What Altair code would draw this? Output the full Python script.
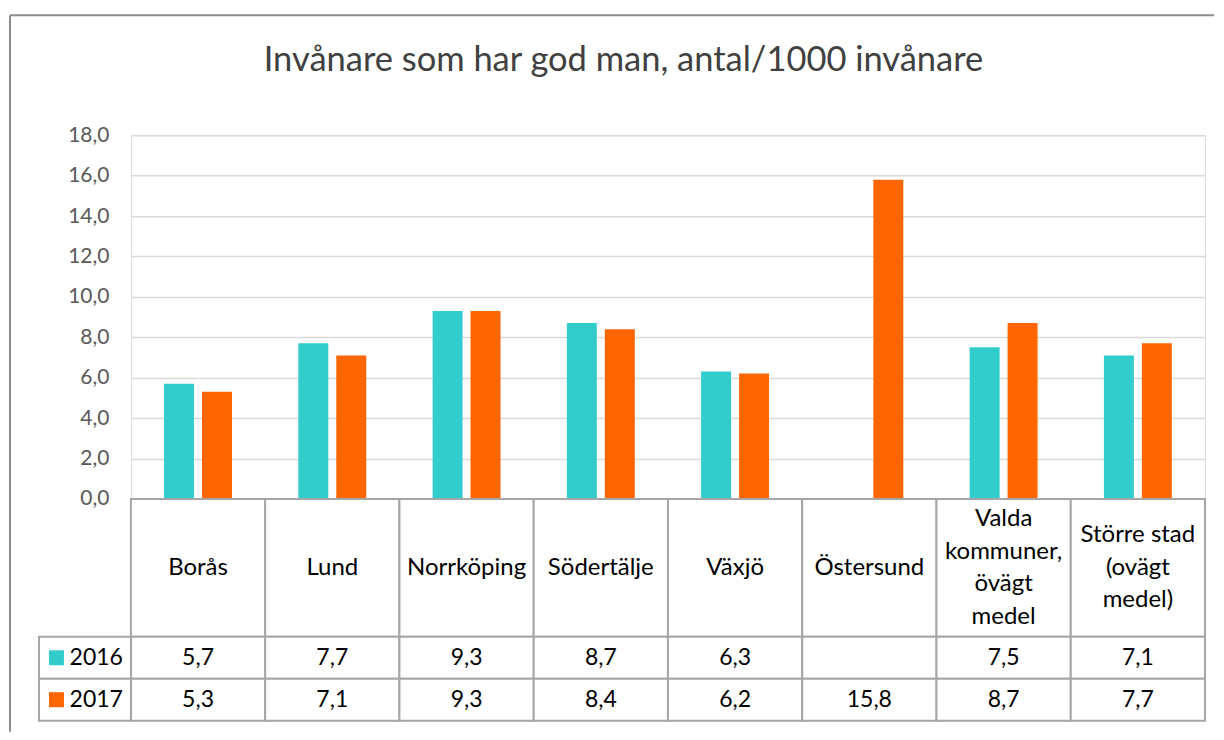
import altair as alt
import pandas as pd

# ---- data ----
categories = ["Borås", "Lund", "Norrköping", "Södertälje", "Växjö", "Östersund",
              "Valda kommuner, ovägt medel", "Större stad (ovägt medel)"]
header_labels = ["Borås", "Lund", "Norrköping", "Södertälje", "Växjö", "Östersund",
                 "Valda\nkommuner,\növägt\nmedel", "Större stad\n(ovägt\nmedel)"]
years = ["2016", "2017"]
values_2016 = [5.7, 7.7, 9.3, 8.7, 6.3, None, 7.5, 7.1]
values_2017 = [5.3, 7.1, 9.3, 8.4, 6.2, 15.8, 8.7, 7.7]
title_text = "Invånare som har god man, antal/1000 invånare"
y_ticks = [0, 2, 4, 6, 8, 10, 12, 14, 16, 18]

colors = ["#33CCCC", "#FF6600"]
FONT = "Lato"
GRID = "#d9d9d9"
BORDER = "#a6a6a6"

rows = []
for yr, vals in zip(years, [values_2016, values_2017]):
    for c, v in zip(categories, vals):
        rows.append({"cat": c, "year": yr, "value": v,
                     "label": "" if v is None else f"{v:.1f}".replace(".", ",")})
df = pd.DataFrame(rows)
hdr = pd.DataFrame({"cat": categories, "hdr": header_labels})
# one row per header text line, with its offset from the cell's middle (in lines)
hdr_lines = []
for c, lab in zip(categories, header_labels):
    parts = lab.split("\n")
    n = len(parts)
    for i, p in enumerate(parts):
        hdr_lines.append({"cat": c, "line": p, "pos": (n - 1) / 2 - i})
hdr_lines = pd.DataFrame(hdr_lines)
leg = pd.DataFrame({"year": years})

W = 1075
x_enc = alt.X("cat:N", sort=categories,
              scale=alt.Scale(paddingInner=0, paddingOuter=0), axis=None)
x_mid = alt.X("cat:N", sort=categories,
              scale=alt.Scale(paddingInner=0, paddingOuter=0), axis=None,
              bandPosition=0.5)
color_enc = alt.Color("year:N", scale=alt.Scale(domain=years, range=colors), legend=None)

# ---- bar chart ----
bars = alt.Chart(df).mark_bar().encode(
    x=x_enc,
    xOffset=alt.XOffset("year:N", sort=years,
                        scale=alt.Scale(paddingInner=0.21, paddingOuter=0.874)),
    y=alt.Y("value:Q", title=None,
            scale=alt.Scale(domain=[0, 18], nice=False, zero=True),
            axis=alt.Axis(values=y_ticks,
                          labelExpr="replace(format(datum.value, '.1f'), '.', ',')",
                          domain=False, ticks=False, labelPadding=22,
                          labelFont=FONT, labelFontSize=21, labelColor="#595959",
                          grid=True, gridColor=GRID, gridWidth=1.5)),
    color=color_enc,
)

one = alt.Data(values=[{"k": 1}])
frame_left = alt.Chart(one).mark_rule(color="#8c8c8c", strokeWidth=2).encode(
    x=alt.value(-121), y=alt.value(-120), y2=alt.value(597))
frame_top = alt.Chart(one).mark_rule(color="#8c8c8c", strokeWidth=2).encode(
    x=alt.value(-121), x2=alt.value(1084), y=alt.value(-120))
title = alt.Chart(one).mark_text(font=FONT, fontSize=34.5, color="#404040",
                                 align="center", baseline="middle").encode(
    x=alt.value(493), y=alt.value(-74), text=alt.value(title_text))

top = alt.layer(bars, frame_left, frame_top, title).properties(width=W, height=364)

# ---- header row of data table ----
LINE_H = 32.5
HDR_H = 138
hdr_rect = alt.Chart(hdr).mark_rect(fill="white", stroke=BORDER, strokeWidth=2).encode(
    x=x_enc)
hdr_text = alt.Chart(hdr_lines).mark_text(
    font=FONT, fontSize=24, color="black", align="center", baseline="middle"
).encode(
    x=x_mid,
    y=alt.Y("pos:Q", axis=None,
            scale=alt.Scale(domain=[-HDR_H / 2 / LINE_H, HDR_H / 2 / LINE_H],
                            nice=False, zero=False)),
    text="line:N")
header = alt.layer(hdr_rect, hdr_text).properties(width=W, height=HDR_H)

# ---- value rows of data table ----
y_rows = alt.Y("year:N", sort=years, scale=alt.Scale(paddingInner=0, paddingOuter=0),
               axis=None)
y_mid = alt.Y("year:N", sort=years, scale=alt.Scale(paddingInner=0, paddingOuter=0),
              axis=None, bandPosition=0.5)
cell_rect = alt.Chart(df).mark_rect(fill="white", stroke=BORDER, strokeWidth=2).encode(
    x=x_enc, y=y_rows)
cell_text = alt.Chart(df).mark_text(font=FONT, fontSize=23, color="black",
                                    align="center", baseline="middle").encode(
    x=x_mid, y=y_mid, text="label:N")
leg_rect = alt.Chart(leg).mark_rect(fill="white", stroke=BORDER, strokeWidth=2).encode(
    x=alt.value(-92), x2=alt.value(0), y=y_rows)
leg_text = alt.Chart(leg).mark_text(font=FONT, fontSize=23, color="black",
                                    align="right", baseline="middle").encode(
    x=alt.value(-8), y=y_mid, text="year:N")
leg_sq = alt.Chart(leg).mark_point(shape="square", filled=True, size=225, opacity=1).encode(
    x=alt.value(-74.5), y=y_mid, color=color_enc)
table = alt.layer(cell_rect, cell_text, leg_rect, leg_text, leg_sq).properties(
    width=W, height=84)

chart = alt.vconcat(top, header, table, spacing=0, bounds="flush").resolve_scale(
    x="shared"
).properties(
    padding={"left": 0, "top": 5, "right": 0, "bottom": 0}
).configure_view(stroke=None).configure(background="white")

chart.save("out.html", embed_options={"renderer": "svg", "actions": False})
